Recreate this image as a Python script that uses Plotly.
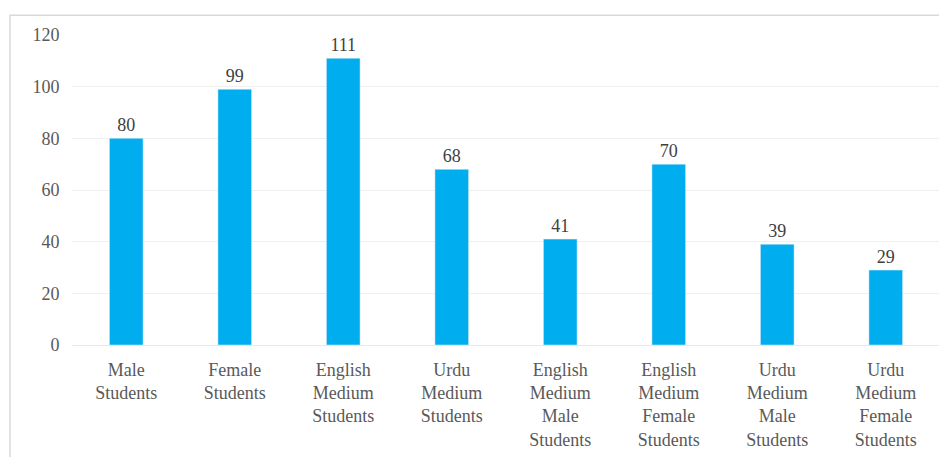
import plotly.graph_objects as go

categories = ["Male<br>Students", "Female<br>Students", "English<br>Medium<br>Students",
              "Urdu<br>Medium<br>Students", "English<br>Medium<br>Male<br>Students",
              "English<br>Medium<br>Female<br>Students", "Urdu<br>Medium<br>Male<br>Students",
              "Urdu<br>Medium<br>Female<br>Students"]
values = [80, 99, 111, 68, 41, 70, 39, 29]
y_ticks = [0, 20, 40, 60, 80, 100, 120]

W, H = 939, 449
L, R, T, B = 64, 7, 27, 110
pw, ph = W - L - R, H - T - B

fig = go.Figure(go.Bar(
    x=categories, y=values, marker_color="#00AEEF", width=0.31,
    text=[str(v) for v in values], textposition="outside",
    textfont=dict(family="Liberation Serif", size=18, color="#404040"),
    cliponaxis=False,
))
fig.update_layout(
    width=W, height=H, margin=dict(l=L, r=R, t=T, b=B),
    paper_bgcolor="white", plot_bgcolor="white", showlegend=False,
    font=dict(family="Liberation Serif", color="#595959"),
    xaxis=dict(tickfont=dict(family="Liberation Serif", size=18, color="#595959"), showgrid=False,
               showline=True, linecolor="#e8e8e8", ticks="", ticklabelstandoff=8),
    yaxis=dict(range=[0, 120], tickvals=y_ticks,
               tickfont=dict(family="Liberation Serif", size=18, color="#595959"),
               showgrid=True, gridcolor="#efefef", zeroline=False,
               ticks="outside", ticklen=8, tickcolor="rgba(0,0,0,0)"),
    shapes=[dict(type="rect", xref="paper", yref="paper",
                 x0=(2 - L) / pw, x1=(W + 5 - L) / pw,
                 y0=-(H + 5 - T - ph) / ph, y1=1 + (T - 7) / ph,
                 line=dict(color="#d9d9d9", width=1.5))],
)
fig.write_html("out.html")
